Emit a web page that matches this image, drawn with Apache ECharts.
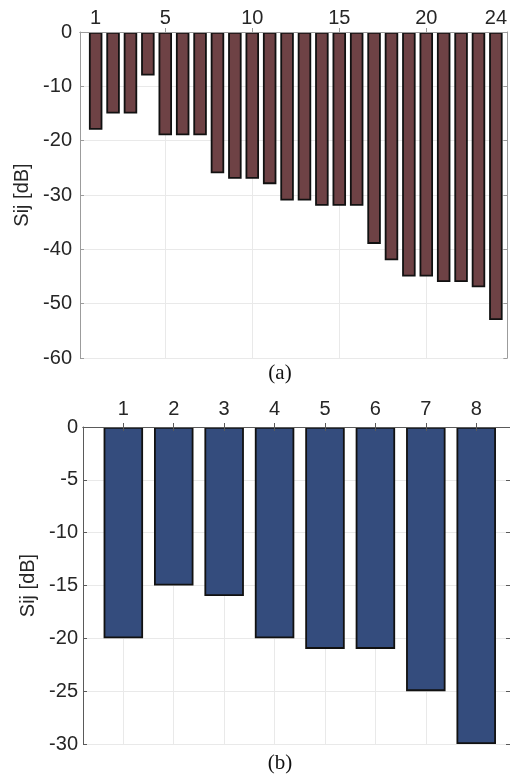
<!DOCTYPE html>
<html>
<head>
<meta charset="utf-8">
<script src="https://cdn.jsdelivr.net/npm/echarts@6/dist/echarts.min.js"></script>
<style>
  html, body { margin: 0; padding: 0; background: #fff; }
  #chart { width: 510px; height: 776px; }
</style>
</head>
<body>
<div id="chart"></div>
<script>
// Panel (a): 24 ports
const portsA = [1, 2, 3, 4, 5, 6, 7, 8, 9, 10, 11, 12, 13, 14, 15, 16, 17, 18, 19, 20, 21, 22, 23, 24];
const sijA = [-18, -15, -15, -8, -19, -19, -19, -26, -27, -27, -28, -31, -31, -32, -32, -32, -39, -42, -45, -45, -46, -46, -47, -53];
const topLabelsA = [1, 5, 10, 15, 20, 24];
const gridTicksA = [5, 10, 15, 20];

// Panel (b): 8 ports
const portsB = [1, 2, 3, 4, 5, 6, 7, 8];
const sijB = [-20, -15, -16, -20, -21, -21, -25, -30];
const topLabelsB = [1, 2, 3, 4, 5, 6, 7, 8];

const yLabel = 'Sij [dB]';
const captionA = '(a)';
const captionB = '(b)';

const SANS = '"Liberation Sans", Arial, sans-serif';
const SERIF = '"Liberation Serif", "Times New Roman", serif';
const TEXT = '#262626';
const GRIDLINE = '#e9e9e9';
const FONT_SIZE = 20;

function pairs(xs, ys) {
  return xs.map((x, i) => [x, ys[i]]);
}

function panelAxes(gridIndex, xMin, xMax, yMin, yMax, yInterval, opts) {
  const axisColor = opts.axisColor;
  const xAxes = [
    // bottom axis: frame line, inner ticks, vertical grid lines
    {
      gridIndex, type: 'value', position: 'bottom', min: xMin, max: xMax, z: 0,
      axisLine: { show: true, lineStyle: { color: axisColor, width: 1 } },
      axisTick: { show: true, inside: true, length: 4, customValues: opts.gridTicks,
                  lineStyle: { color: axisColor } },
      axisLabel: { show: false },
      splitLine: { show: true, lineStyle: { color: GRIDLINE, width: 1 } }
    },
    // top axis: port numbers
    {
      gridIndex, type: 'value', position: 'top', min: xMin, max: xMax, z: 5,
      axisLine: { show: true, lineStyle: { color: axisColor, width: 1 } },
      axisTick: { show: opts.topTicks, inside: true, length: 4, customValues: opts.gridTicks,
                  lineStyle: { color: axisColor } },
      axisLabel: { show: true, customValues: opts.topLabels, margin: opts.topMargin,
                   fontSize: FONT_SIZE, fontFamily: SANS, color: TEXT },
      splitLine: { show: false }
    }
  ];
  const yAxes = [
    {
      gridIndex, type: 'value', position: 'left', min: yMin, max: yMax, interval: yInterval,
      axisLine: { show: true, lineStyle: { color: axisColor, width: 1 } },
      axisTick: { show: true, inside: true, length: 4, lineStyle: { color: axisColor } },
      axisLabel: { fontSize: FONT_SIZE, fontFamily: SANS, color: TEXT, margin: opts.yMargin },
      splitLine: { show: true, lineStyle: { color: GRIDLINE, width: 1 } },
      name: yLabel, nameLocation: 'middle', nameGap: opts.nameGap,
      nameTextStyle: { fontSize: FONT_SIZE, fontFamily: SANS, color: TEXT }
    },
    {
      gridIndex, type: 'value', position: 'right', min: yMin, max: yMax, interval: yInterval,
      axisLine: { show: true, lineStyle: { color: axisColor, width: 1 } },
      axisTick: { show: true, inside: true, length: 4, lineStyle: { color: axisColor } },
      axisLabel: { show: false },
      splitLine: { show: false }
    }
  ];
  return { xAxes, yAxes };
}

const axesA = panelAxes(0, 0.1, 24.66, -60, 0, 10, {
  axisColor: '#9c9c9c', gridTicks: gridTicksA, topLabels: topLabelsA,
  topTicks: false, topMargin: 4, yMargin: 8, nameGap: 47
});
const axesB = panelAxes(1, 0.2, 8.67, -30, 0, 5, {
  axisColor: '#5a5a5a', gridTicks: topLabelsB, topLabels: topLabelsB,
  topTicks: true, topMargin: 8, yMargin: 5, nameGap: 44
});

const option = {
  backgroundColor: '#ffffff',
  animation: false,
  grid: [
    { left: 80, top: 32, width: 430, height: 326 },
    { left: 83, top: 427, width: 427, height: 317 }
  ],
  xAxis: [...axesA.xAxes, ...axesB.xAxes],
  yAxis: [...axesA.yAxes, ...axesB.yAxes],
  series: [
    {
      type: 'bar', xAxisIndex: 0, yAxisIndex: 0,
      data: pairs(portsA, sijA),
      barWidth: 13.5,
      itemStyle: { color: '#6e4245', borderColor: '#111111', borderWidth: 1.8 },
      z: 2
    },
    {
      type: 'bar', xAxisIndex: 2, yAxisIndex: 2,
      data: pairs(portsB, sijB),
      barWidth: 39.5,
      itemStyle: { color: '#344c7d', borderColor: '#111111', borderWidth: 1.8 },
      z: 2
    }
  ],
  graphic: [
    { type: 'text', x: 280, y: 373,
      style: { text: captionA, font: '21px ' + SERIF, fill: '#111',
               textAlign: 'center', textVerticalAlign: 'middle' } },
    { type: 'text', x: 280, y: 763,
      style: { text: captionB, font: '21px ' + SERIF, fill: '#111',
               textAlign: 'center', textVerticalAlign: 'middle' } }
  ]
};

const chart = echarts.init(document.getElementById('chart'), null, { renderer: 'canvas' });
chart.setOption(option);
</script>
</body>
</html>
